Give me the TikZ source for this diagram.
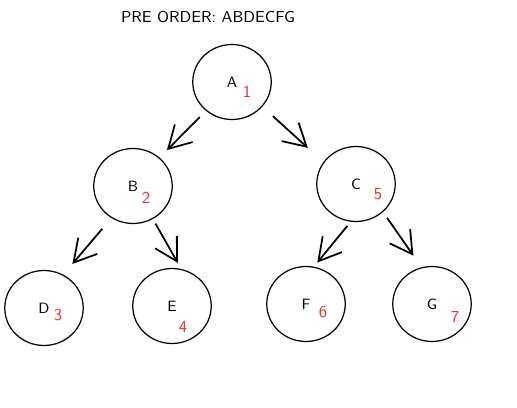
\documentclass[tikz,border=0pt]{standalone}
\usetikzlibrary{arrows.meta,shapes.geometric}
\definecolor{ordred}{HTML}{E03131}

\begin{document}
\begin{tikzpicture}[x=0.02cm, y=-0.02cm,
  every node/.style={font=\sffamily\fontsize{8.5}{10}\selectfont, inner sep=0pt},
  tnode/.style={draw, ellipse, line width=0.7pt, minimum width=1.57cm, minimum height=1.5cm},
  order/.style={text=ordred, font=\sffamily\fontsize{9.5}{11}\selectfont},
  tedge/.style={line width=1pt, -{Straight Barb[length=4.4mm, width=5mm]}}]
\useasboundingbox (0,0) rectangle (517,408);
\node (title) at (208,17) {\fontsize{9}{11}\selectfont PRE ORDER: ABDECFG};
\node[tnode] (nA) at (232,82) {A};
\node[tnode] (nB) at (133,186) {B};
\node[tnode] (nC) at (356,184) {C};
\node[tnode] (nD) at (44,308) {D};
\node[tnode] (nE) at (172,306) {E};
\node[tnode] (nF) at (306,304) {F};
\node[tnode] (nG) at (432,304) {G};
\node[order] (ordA) at (247,92) {1};
\node[order] (ordB) at (146,198) {2};
\node[order] (ordD) at (58,315) {3};
\node[order] (ordE) at (183,327) {4};
\node[order] (ordC) at (378,194) {5};
\node[order] (ordF) at (323,312) {6};
\node[order] (ordG) at (455,317) {7};
\draw[tedge, shorten <=5pt, shorten >=6pt] (nA.228) -- (nB.47);
\draw[tedge, shorten <=8pt, shorten >=12pt] (nA.321) -- (nC.146);
\draw[tedge, shorten <=8pt, shorten >=8pt] (nB.236) -- (nD.60);
\draw[tedge, shorten <=3pt, shorten >=4pt] (nB.301) -- (nE.76);
\draw[tedge, shorten <=3pt, shorten >=3pt] (nC.262) -- (nF.78);
\draw[tedge, shorten <=4pt, shorten >=8pt] (nC.314) -- (nG.106);
\end{tikzpicture}
\end{document}
